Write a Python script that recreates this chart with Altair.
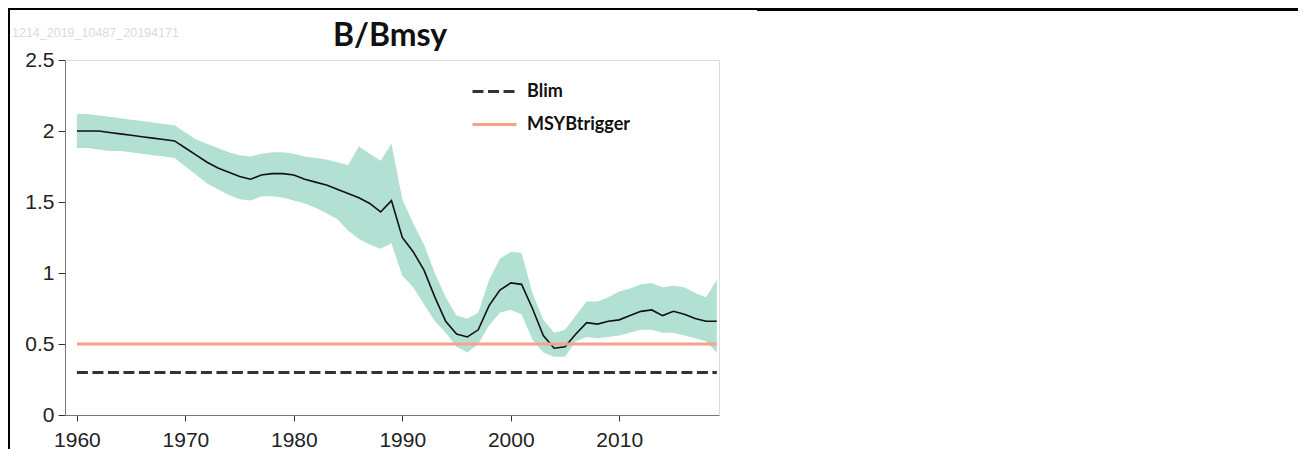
import altair as alt
import pandas as pd

years = list(range(1960, 2020))

median = [2.00, 2.00, 2.00, 1.99, 1.98, 1.97, 1.96, 1.95, 1.94, 1.93,
          1.88, 1.83, 1.78, 1.74, 1.71, 1.68, 1.66, 1.69, 1.70, 1.70,
          1.69, 1.66, 1.64, 1.62, 1.59, 1.56, 1.53, 1.49, 1.43, 1.51,
          1.25, 1.15, 1.02, 0.83, 0.66, 0.57, 0.55, 0.60, 0.77, 0.88,
          0.93, 0.92, 0.75, 0.56, 0.47, 0.48, 0.57, 0.65, 0.64, 0.66,
          0.67, 0.70, 0.73, 0.74, 0.70, 0.73, 0.71, 0.68, 0.66, 0.66]

upper = [2.12, 2.12, 2.11, 2.10, 2.09, 2.08, 2.07, 2.06, 2.05, 2.04,
         1.99, 1.94, 1.91, 1.88, 1.85, 1.83, 1.82, 1.84, 1.85, 1.85,
         1.84, 1.82, 1.81, 1.80, 1.78, 1.76, 1.89, 1.84, 1.79, 1.91,
         1.52, 1.35, 1.20, 1.00, 0.83, 0.70, 0.68, 0.72, 0.95, 1.10,
         1.15, 1.14, 0.86, 0.67, 0.58, 0.60, 0.70, 0.80, 0.80, 0.83,
         0.87, 0.89, 0.92, 0.93, 0.90, 0.91, 0.90, 0.86, 0.83, 0.95]

lower = [1.88, 1.88, 1.87, 1.86, 1.86, 1.85, 1.84, 1.83, 1.82, 1.81,
         1.75, 1.69, 1.63, 1.59, 1.55, 1.52, 1.51, 1.54, 1.54, 1.53,
         1.51, 1.49, 1.46, 1.42, 1.38, 1.30, 1.24, 1.20, 1.17, 1.21,
         0.98, 0.90, 0.78, 0.66, 0.58, 0.48, 0.44, 0.50, 0.63, 0.72,
         0.74, 0.71, 0.53, 0.44, 0.41, 0.41, 0.52, 0.55, 0.54, 0.55,
         0.56, 0.58, 0.60, 0.60, 0.58, 0.58, 0.56, 0.54, 0.52, 0.44]

ref_names = ["Blim", "MSYBtrigger"]
ref_values = [0.3, 0.5]
ref_colors = ["#333333", "#F4A38A"]
x_ticks = [1960, 1970, 1980, 1990, 2000, 2010]
y_ticks = [0, 0.5, 1, 1.5, 2, 2.5]
title_text = "B/Bmsy"
watermark = "1214_2019_10487_20194171"

df = pd.DataFrame({"year": years, "median": median, "lower": lower, "upper": upper})
ref_rows = []
for n, v in zip(ref_names, ref_values):
    ref_rows.append({"name": n, "year": years[0], "value": v})
    ref_rows.append({"name": n, "year": years[-1], "value": v})
ref_df = pd.DataFrame(ref_rows)

PW, PH = 654, 355
PAD_L, PAD_T = 57, 52
TOTAL_W, TOTAL_H = 1290, 441

xscale = alt.Scale(domain=[1958.9, 2019.2], nice=False, zero=False)
yscale = alt.Scale(domain=[0, 2.5], nice=False)

xaxis = alt.Axis(values=x_ticks, format="d", title=None, grid=False,
                 tickSize=6, labelPadding=8, labelFontSize=21,
                 labelFont="Liberation Sans Narrow, Liberation Sans, sans-serif",
                 labelColor="#222", domainColor="#777", tickColor="#333")
yaxis = alt.Axis(values=y_ticks, labelExpr="toString(datum.value)", title=None, grid=False,
                 tickSize=7, labelPadding=4, labelFontSize=21,
                 labelFont="Liberation Sans Narrow, Liberation Sans, sans-serif",
                 labelColor="#222", domainColor="#777", tickColor="#333")

band = alt.Chart(df).mark_area(color="#B2E0D3", opacity=1).encode(
    x=alt.X("year:Q", scale=xscale, axis=xaxis),
    y=alt.Y("lower:Q", scale=yscale, axis=yaxis),
    y2="upper:Q",
)

med = alt.Chart(df).mark_line(color="#111111", strokeWidth=1.6).encode(
    x=alt.X("year:Q", scale=xscale),
    y=alt.Y("median:Q", scale=yscale),
)

refs = alt.Chart(ref_df).mark_line(strokeWidth=3).encode(
    x=alt.X("year:Q", scale=xscale),
    y=alt.Y("value:Q", scale=yscale),
    color=alt.Color("name:N", scale=alt.Scale(domain=ref_names, range=ref_colors),
                    legend=alt.Legend(title=None, orient="none", legendX=406, legendY=8,
                                      symbolType="stroke", symbolSize=1936,
                                      symbolStrokeWidth=3, labelFontSize=18,
                                      labelFont="Lato", labelFontWeight="bold",
                                      labelColor="#111", labelOffset=9, rowPadding=-6)),
    strokeDash=alt.StrokeDash("name:N", scale=alt.Scale(domain=ref_names, range=[[11, 4.5], [1, 0]]),
                              legend=None),
)

one = pd.DataFrame({"k": [0]})
title = alt.Chart(one).mark_text(text=title_text, font="Lato", fontWeight="bold",
                                 fontSize=32, align="center", baseline="alphabetic",
                                 color="#111").encode(x=alt.value(PW / 2 - 2), y=alt.value(-14))
wm = alt.Chart(one).mark_text(text=watermark, font="Liberation Sans", fontSize=12.5,
                              align="left", baseline="alphabetic",
                              color="#DADADA").encode(x=alt.value(-53), y=alt.value(-23))

top_line = alt.Chart(one).mark_rule(color="#000", strokeWidth=2).encode(
    x=alt.value(-PAD_L), x2=alt.value(TOTAL_W - PAD_L), y=alt.value(-PAD_T + 1))
top_line2 = alt.Chart(one).mark_rule(color="#000", strokeWidth=3).encode(
    x=alt.value(757 - 8 - PAD_L), x2=alt.value(TOTAL_W - PAD_L), y=alt.value(-PAD_T + 1.5))
left_line = alt.Chart(one).mark_rule(color="#000", strokeWidth=2).encode(
    x=alt.value(-PAD_L + 1), y=alt.value(-PAD_T), y2=alt.value(TOTAL_H - PAD_T))

chart = alt.layer(band, med, refs, title, wm, top_line, top_line2, left_line).properties(
    width=PW, height=PH,
    autosize=alt.AutoSizeParams(type="none"),
    padding={"left": PAD_L, "top": PAD_T, "right": TOTAL_W - PAD_L - PW, "bottom": TOTAL_H - PAD_T - PH},
).configure_view(stroke="#666", strokeWidth=1.5).configure(background="white")

chart.save("out.html", embed_options={"renderer": "svg", "actions": False})
